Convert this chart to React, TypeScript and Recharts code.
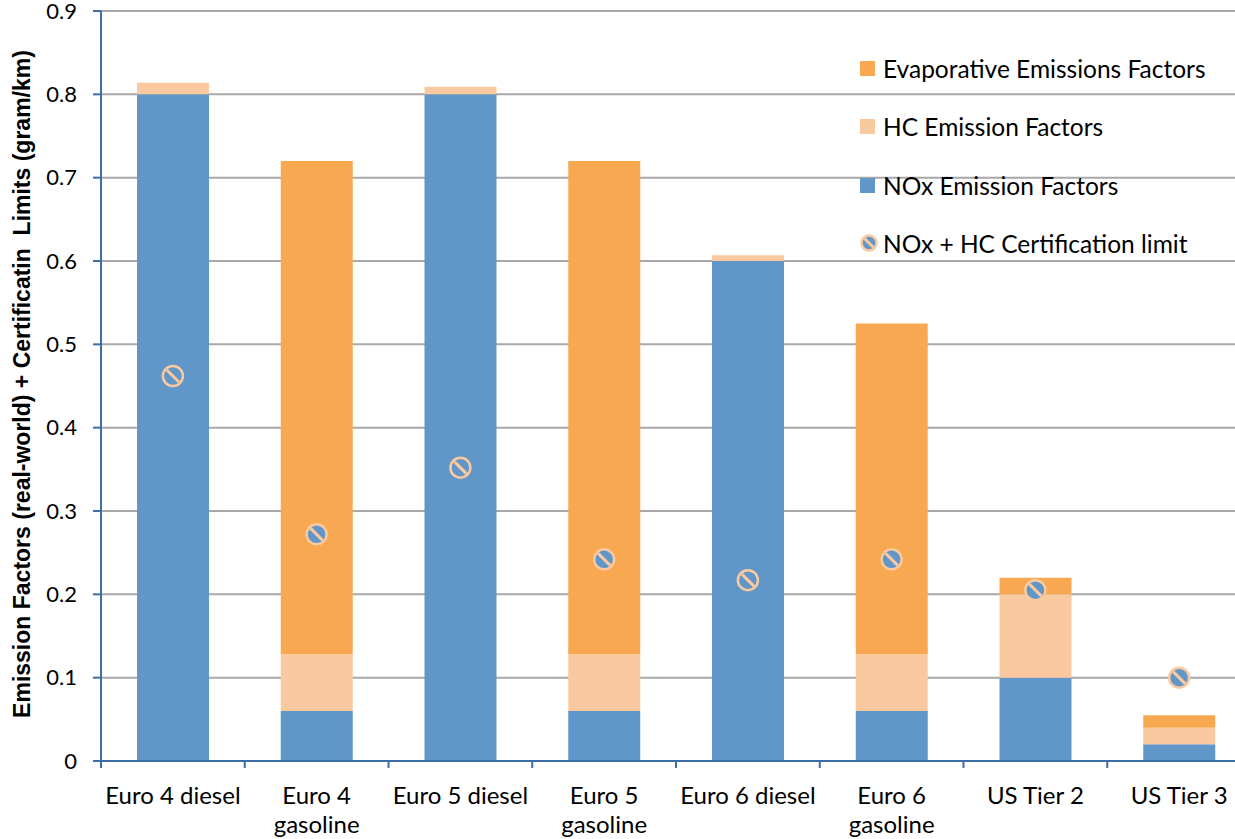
import { Bar, CartesianGrid, ComposedChart, Line, XAxis, YAxis } from "recharts";

const categories = [
  "Euro 4 diesel",
  "Euro 4 gasoline",
  "Euro 5 diesel",
  "Euro 5 gasoline",
  "Euro 6 diesel",
  "Euro 6 gasoline",
  "US Tier 2",
  "US Tier 3",
];
const tickLines = [
  ["Euro 4 diesel"],
  ["Euro 4", "gasoline"],
  ["Euro 5 diesel"],
  ["Euro 5", "gasoline"],
  ["Euro 6 diesel"],
  ["Euro 6", "gasoline"],
  ["US Tier 2"],
  ["US Tier 3"],
];
const noxFactors = [0.8, 0.06, 0.8, 0.06, 0.6, 0.06, 0.1, 0.02];
const hcFactors = [0.014, 0.068, 0.009, 0.068, 0.007, 0.068, 0.1, 0.02];
const evapFactors = [0, 0.592, 0, 0.592, 0, 0.397, 0.02, 0.015];
const certLimits = [0.462, 0.272, 0.352, 0.242, 0.217, 0.242, 0.205, 0.1];
const yTicks = [0, 0.1, 0.2, 0.3, 0.4, 0.5, 0.6, 0.7, 0.8, 0.9];

const NOX = "#6096c8";
const HC = "#fbc99f";
const EVAP = "#f9a852";
const AXIS = "#3d6ea6";
const FONT = "Lato, 'Open Sans', sans-serif";

const data = categories.map((name, i) => ({
  name,
  nox: noxFactors[i],
  hc: hcFactors[i],
  evap: evapFactors[i],
  limit: certLimits[i],
}));

const BAND = 1150 / categories.length;

// circle with a diagonal stripe used for the certification limit
function LimitMarker({ cx, cy, r = 10 }: { cx?: number; cy?: number; r?: number }) {
  if (cx == null || cy == null) return null;
  const d = r * 0.6;
  return (
    <g>
      <circle cx={cx} cy={cy} r={r} fill={NOX} stroke={HC} strokeWidth={2.5} />
      <line x1={cx - d} y1={cy - d} x2={cx + d} y2={cy + d} stroke={HC} strokeWidth={3} />
    </g>
  );
}

function CategoryTick({ x, y, payload, index }: any) {
  const lines = tickLines[index] ?? [payload.value];
  return (
    <g>
      <line x1={x - BAND / 2} y1={y - 8} x2={x - BAND / 2} y2={y - 1} stroke={AXIS} strokeWidth={2} />
      <text x={x} y={y + 35} textAnchor="middle" fontFamily={FONT} fontSize={24} fill="#000">
        {lines.map((l: string, k: number) => (
          <tspan key={k} x={x} dy={k === 0 ? 0 : 29}>
            {l}
          </tspan>
        ))}
      </text>
    </g>
  );
}

const legendItems = [
  { label: "Evaporative Emissions Factors", color: EVAP, top: 68 },
  { label: "HC Emission Factors", color: HC, top: 126 },
  { label: "NOx Emission Factors", color: NOX, top: 185 },
];

function ChartLegend() {
  const row = (top: number): React.CSSProperties => ({
    position: "absolute",
    left: 860,
    top: top - 20,
    height: 40,
    display: "flex",
    alignItems: "center",
    whiteSpace: "nowrap",
  });
  return (
    <div style={{ position: "absolute", left: 0, top: 0, fontFamily: FONT, fontSize: 24.5, color: "#000" }}>
      {legendItems.map((it) => (
        <div key={it.label} style={row(it.top)}>
          <span style={{ width: 15, height: 15, background: it.color, marginRight: 8 }} />
          {it.label}
        </div>
      ))}
      <div style={row(243)}>
        <svg width={18} height={18} style={{ marginRight: 5 }}>
          <LimitMarker cx={9} cy={9} r={7.5} />
        </svg>
        NOx + HC Certification limit
      </div>
    </div>
  );
}

export default function App() {
  return (
    <div style={{ position: "absolute", left: 0, top: 0, width: 1235, height: 839, overflow: "hidden", background: "#fff" }}>
      <ComposedChart width={1251} height={839} data={data} margin={{ top: 11, right: 0, bottom: 0, left: 0 }}>
        <CartesianGrid vertical={false} stroke="#a8a8a8" strokeWidth={2} />
        <XAxis
          dataKey="name"
          height={78}
          interval={0}
          axisLine={{ stroke: AXIS, strokeWidth: 2 }}
          tickLine={false}
          tick={<CategoryTick />}
        />
        <YAxis
          width={101}
          domain={[0, 0.9]}
          ticks={yTicks}
          interval={0}
          axisLine={{ stroke: AXIS, strokeWidth: 2 }}
          tickLine={{ stroke: AXIS, strokeWidth: 2 }}
          tickSize={8}
          tickMargin={16}
          tick={{ fill: "#000", fontSize: 22, fontFamily: FONT }}
          label={{
            value: "Emission Factors (real-world) + Certificatin \u00a0Limits (gram/km)",
            angle: -90,
            position: "insideLeft",
            dx: 17,
            dy: -2,
            style: {
              textAnchor: "middle",
              fontFamily: "'Liberation Sans', Arial, sans-serif",
              fontSize: 23,
              fontWeight: 700,
              fill: "#000",
            },
          }}
        />
        <Bar dataKey="nox" stackId="a" fill={NOX} barSize={72} isAnimationActive={false} />
        <Bar dataKey="hc" stackId="a" fill={HC} barSize={72} isAnimationActive={false} />
        <Bar dataKey="evap" stackId="a" fill={EVAP} barSize={72} isAnimationActive={false} />
        <Line
          dataKey="limit"
          stroke="none"
          dot={(p: any) => <LimitMarker key={p.index} cx={p.cx} cy={p.cy} />}
          activeDot={false}
          legendType="none"
          isAnimationActive={false}
        />
      </ComposedChart>
      <ChartLegend />
    </div>
  );
}
